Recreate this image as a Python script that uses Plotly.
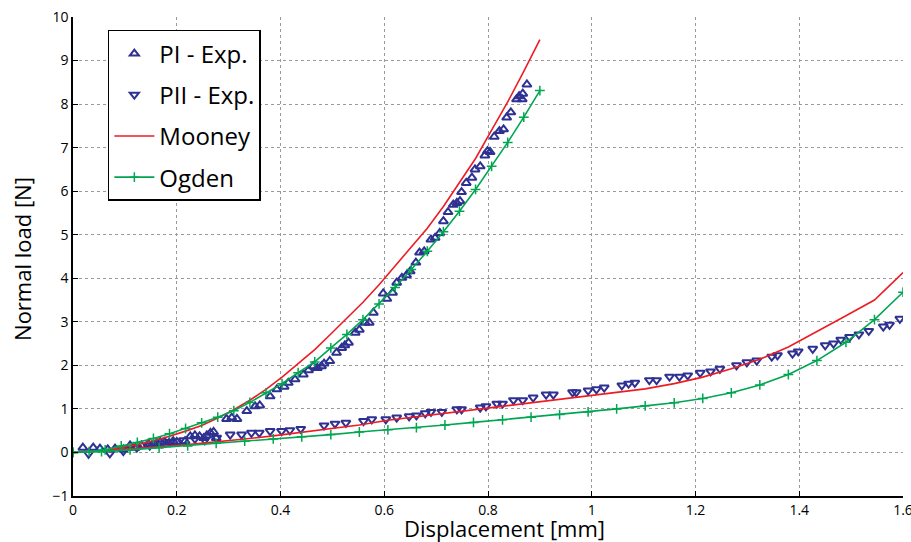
import plotly.graph_objects as go

# ---------------- data ----------------
pi_exp_x = [0.019, 0.039, 0.052, 0.067, 0.081, 0.097, 0.110, 0.120, 0.132, 0.145, 0.152, 0.161,
            0.168, 0.177, 0.185, 0.193, 0.200, 0.216, 0.226, 0.235, 0.244, 0.252, 0.258, 0.265,
            0.271, 0.276, 0.296, 0.306, 0.316, 0.335, 0.351, 0.360, 0.380, 0.393, 0.407, 0.415,
            0.428, 0.444, 0.454, 0.463, 0.471, 0.479, 0.484, 0.495, 0.508, 0.518, 0.524, 0.531,
            0.544, 0.552, 0.563, 0.571, 0.579, 0.598, 0.605, 0.616, 0.624, 0.634, 0.643, 0.650,
            0.661, 0.668, 0.677, 0.690, 0.698, 0.707, 0.714, 0.723, 0.733, 0.740, 0.746, 0.749,
            0.758, 0.769, 0.775, 0.785, 0.794, 0.799, 0.804, 0.812, 0.822, 0.830, 0.836, 0.844,
            0.855, 0.860, 0.866, 0.867, 0.875]
pi_exp_y = [0.11, 0.11, 0.09, 0.07, 0.09, 0.07, 0.16, 0.11, 0.16, 0.20, 0.16, 0.20,
            0.24, 0.24, 0.22, 0.26, 0.24, 0.26, 0.37, 0.39, 0.37, 0.33, 0.39, 0.45,
            0.47, 0.33, 0.77, 0.80, 0.77, 0.95, 1.06, 1.08, 1.29, 1.45, 1.51, 1.60,
            1.68, 1.79, 1.89, 1.98, 1.94, 1.98, 2.04, 2.10, 2.29, 2.40, 2.46, 2.52,
            2.75, 2.82, 2.98, 2.98, 3.21, 3.65, 3.53, 3.67, 3.90, 4.01, 4.07, 4.16,
            4.36, 4.59, 4.62, 4.89, 4.93, 5.04, 5.31, 5.52, 5.69, 5.73, 5.77, 5.98,
            6.19, 6.31, 6.50, 6.57, 6.82, 6.92, 6.90, 7.25, 7.38, 7.42, 7.69, 7.81,
            8.11, 8.18, 8.11, 8.24, 8.45]

pii_exp_x = [0.030, 0.071, 0.097, 0.123, 0.148, 0.171, 0.187, 0.213, 0.235, 0.254, 0.277, 0.303,
             0.325, 0.344, 0.359, 0.380, 0.402, 0.418, 0.439, 0.484, 0.505, 0.526, 0.560, 0.576,
             0.603, 0.624, 0.648, 0.662, 0.679, 0.690, 0.711, 0.740, 0.749, 0.785, 0.796, 0.817,
             0.828, 0.849, 0.867, 0.887, 0.912, 0.926, 0.963, 0.970, 0.993, 1.009, 1.024, 1.058,
             1.071, 1.083, 1.111, 1.125, 1.150, 1.169, 1.185, 1.209, 1.229, 1.247, 1.279, 1.299,
             1.318, 1.347, 1.358, 1.387, 1.398, 1.426, 1.450, 1.466, 1.480, 1.497, 1.515, 1.534,
             1.562, 1.574, 1.594]
pii_exp_y = [-0.03, -0.02, 0.03, 0.11, 0.16, 0.21, 0.24, 0.28, 0.31, 0.28, 0.34, 0.41,
             0.41, 0.45, 0.45, 0.49, 0.49, 0.51, 0.54, 0.62, 0.66, 0.68, 0.72, 0.76,
             0.76, 0.80, 0.83, 0.85, 0.90, 0.93, 0.93, 0.99, 0.99, 1.03, 1.06, 1.12,
             1.12, 1.20, 1.20, 1.26, 1.33, 1.33, 1.38, 1.38, 1.42, 1.45, 1.49, 1.54,
             1.58, 1.60, 1.66, 1.66, 1.74, 1.74, 1.77, 1.83, 1.86, 1.92, 2.00, 2.07,
             2.11, 2.20, 2.23, 2.27, 2.32, 2.38, 2.46, 2.50, 2.59, 2.65, 2.71, 2.79,
             2.89, 2.93, 3.07]

model_pi_x = [0.000, 0.031, 0.062, 0.093, 0.124, 0.155, 0.186, 0.217, 0.248, 0.279,
              0.310, 0.341, 0.372, 0.403, 0.434, 0.466, 0.497, 0.528, 0.559, 0.590,
              0.621, 0.652, 0.683, 0.714, 0.745, 0.776, 0.807, 0.838, 0.869, 0.900]
mooney_pi_y = [0.00, 0.01, 0.05, 0.11, 0.18, 0.27, 0.37, 0.49, 0.62, 0.79,
               0.98, 1.20, 1.45, 1.73, 2.03, 2.36, 2.72, 3.08, 3.45, 3.85,
               4.28, 4.70, 5.15, 5.65, 6.20, 6.75, 7.40, 8.05, 8.75, 9.48]
ogden_pi_y = [0.00, 0.02, 0.06, 0.15, 0.23, 0.32, 0.43, 0.55, 0.68, 0.81,
              0.96, 1.15, 1.37, 1.58, 1.83, 2.08, 2.40, 2.71, 3.05, 3.41,
              3.79, 4.20, 4.62, 5.07, 5.54, 6.04, 6.57, 7.12, 7.70, 8.31]

model_pii_x = [0.000, 0.055, 0.110, 0.166, 0.221, 0.276, 0.331, 0.386, 0.441, 0.497,
               0.552, 0.607, 0.662, 0.717, 0.772, 0.828, 0.883, 0.938, 0.993, 1.048,
               1.103, 1.159, 1.214, 1.269, 1.324, 1.379, 1.434, 1.490, 1.545, 1.600]
mooney_pii_y = [0.00, 0.04, 0.08, 0.13, 0.18, 0.24, 0.31, 0.38, 0.46, 0.55,
                0.63, 0.74, 0.82, 0.90, 0.98, 1.05, 1.13, 1.21, 1.29, 1.37,
                1.46, 1.58, 1.73, 1.92, 2.14, 2.42, 2.77, 3.14, 3.50, 4.13]
ogden_pii_y = [0.00, 0.02, 0.06, 0.11, 0.15, 0.21, 0.26, 0.31, 0.36, 0.41,
               0.47, 0.52, 0.57, 0.63, 0.69, 0.75, 0.81, 0.87, 0.93, 1.00,
               1.07, 1.14, 1.24, 1.37, 1.55, 1.79, 2.11, 2.53, 3.05, 3.68]

x_ticks = [0, 0.2, 0.4, 0.6, 0.8, 1.0, 1.2, 1.4, 1.6]
x_tick_text = ["0", "0.2", "0.4", "0.6", "0.8", "1", "1.2", "1.4", "1.6"]
y_ticks = [-1, 0, 1, 2, 3, 4, 5, 6, 7, 8, 9, 10]

# ---------------- style ----------------
BLUE = "#2E3192"
RED = "#ED1C24"
GREEN = "#00A651"
TITLE_FONT = "Open Sans, Noto Sans, sans-serif"
TICK_FONT = "Liberation Sans Narrow, Open Sans, sans-serif"

fig = go.Figure()

fig.add_trace(go.Scatter(x=pi_exp_x, y=pi_exp_y, mode="markers", name="PI - Exp.",
                         legendgroup="a",
                         marker=dict(symbol="triangle-up-open", size=8, color=BLUE,
                                     line=dict(width=2, color=BLUE))))
fig.add_trace(go.Scatter(x=pii_exp_x, y=pii_exp_y, mode="markers", name="PII - Exp.",
                         legendgroup="b",
                         marker=dict(symbol="triangle-down-open", size=8, color=BLUE,
                                     line=dict(width=2, color=BLUE))))
fig.add_trace(go.Scatter(x=model_pi_x, y=mooney_pi_y, mode="lines", name="Mooney",
                         legendgroup="c", line=dict(color=RED, width=1.6)))
fig.add_trace(go.Scatter(x=model_pii_x, y=mooney_pii_y, mode="lines", name="Mooney",
                         legendgroup="c", showlegend=False, line=dict(color=RED, width=1.6)))
fig.add_trace(go.Scatter(x=model_pi_x, y=ogden_pi_y, mode="lines+markers", name="Ogden",
                         legendgroup="d", line=dict(color=GREEN, width=1.6),
                         marker=dict(symbol="cross-thin", size=7,
                                     line=dict(width=1.5, color=GREEN))))
fig.add_trace(go.Scatter(x=model_pii_x, y=ogden_pii_y, mode="lines+markers", name="Ogden",
                         legendgroup="d", showlegend=False, line=dict(color=GREEN, width=1.6),
                         marker=dict(symbol="cross-thin", size=7,
                                     line=dict(width=1.5, color=GREEN))))

axis_common = dict(
    showgrid=True, gridcolor="#9a9a9a", griddash="dot", gridwidth=1,
    zeroline=False, showline=True, linecolor="black", linewidth=1.5,
    ticks="inside", ticklen=5, tickwidth=1, tickcolor="black",
    tickfont=dict(family=TICK_FONT, size=14, color="black"),
    ticklabeloverflow="allow", automargin=False,
)

fig.update_layout(
    width=911, height=542,
    margin=dict(l=73, r=8, t=17, b=46, autoexpand=False),
    plot_bgcolor="white", paper_bgcolor="white",
    xaxis=dict(range=[0, 1.6], tickvals=x_ticks, ticktext=x_tick_text, **axis_common),
    yaxis=dict(range=[-1, 10], tickvals=y_ticks, **axis_common),
    legend=dict(
        x=0.042, y=0.973, xanchor="left", yanchor="top",
        bgcolor="white", bordercolor="black", borderwidth=1.5,
        font=dict(family=TITLE_FONT, size=24, color="black"),
        traceorder="grouped", tracegroupgap=7, itemwidth=40,
    ),
    showlegend=True,
    annotations=[
        dict(text="Displacement [mm]", x=0.52, y=-0.066, xref="paper", yref="paper",
             xanchor="center", yanchor="middle", showarrow=False,
             font=dict(family=TITLE_FONT, size=22, color="black")),
        dict(text="Normal load [N]", x=-0.0614, y=0.495, xref="paper", yref="paper",
             xanchor="center", yanchor="middle", textangle=-90, showarrow=False,
             font=dict(family=TITLE_FONT, size=22, color="black")),
    ],
)

fig.write_html("out.html", config={"displayModeBar": False},
               post_script="document.body.style.margin='0px';document.body.style.overflow='hidden';")
